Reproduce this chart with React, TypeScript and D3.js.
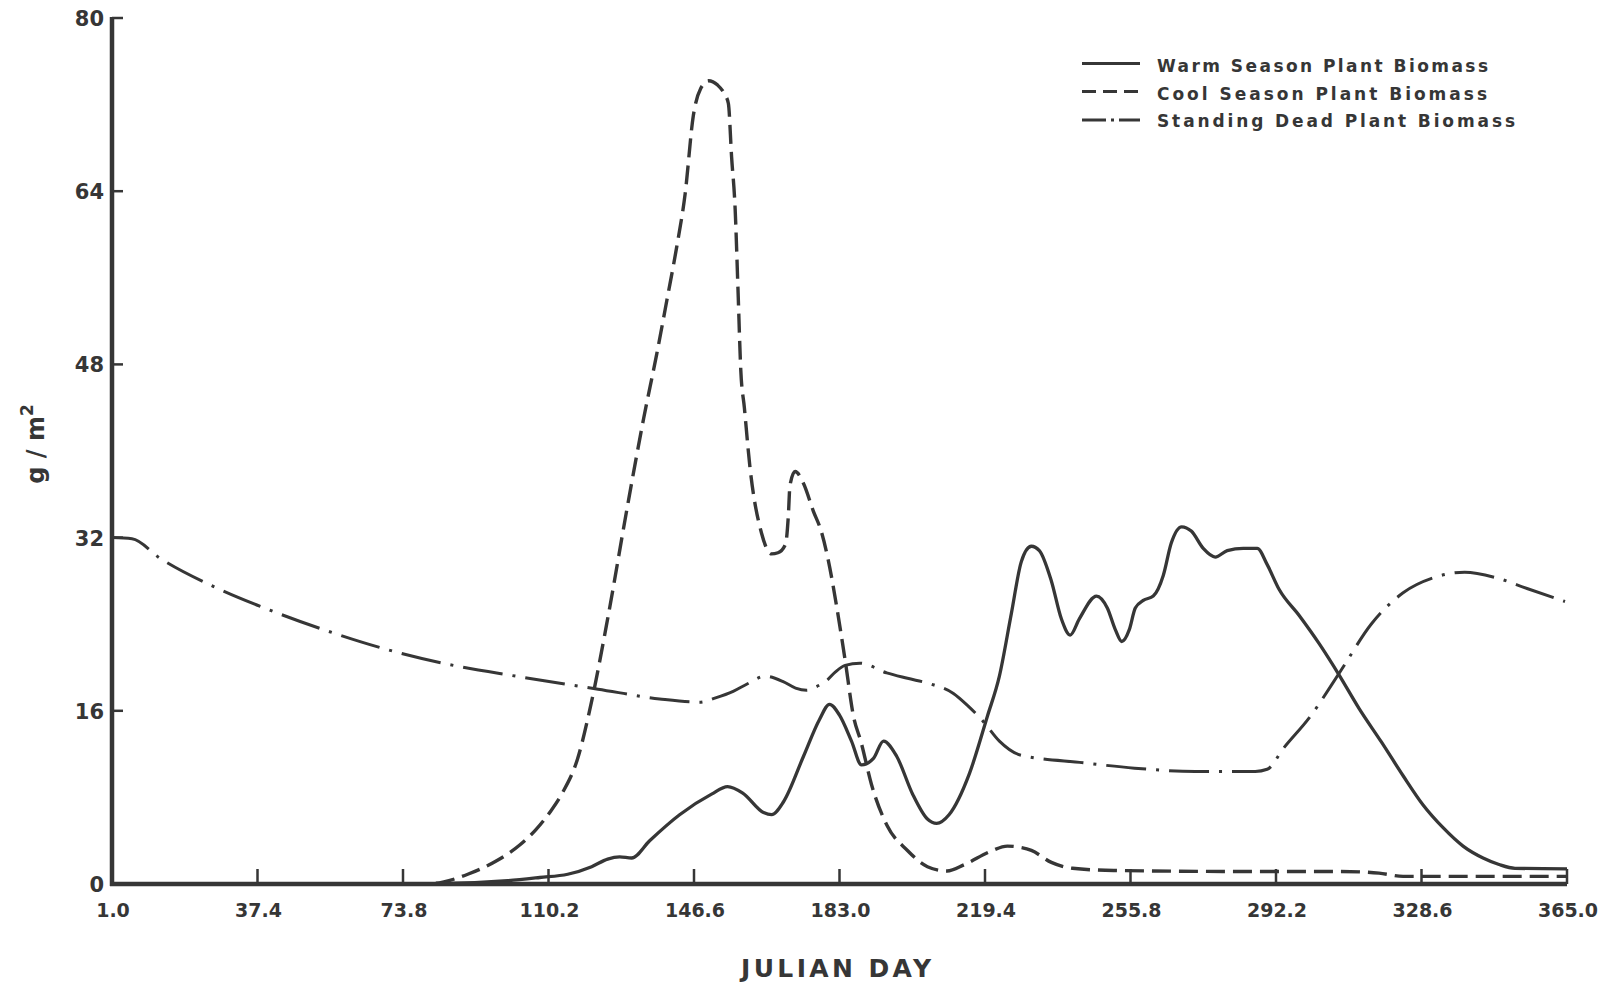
import React from "react";
import * as d3 from "d3";

const xTicks = [1.0, 37.4, 73.8, 110.2, 146.6, 183.0, 219.4, 255.8, 292.2, 328.6, 365.0];
const xTickLabels = ["1.0", "37.4", "73.8", "110.2", "146.6", "183.0", "219.4", "255.8", "292.2", "328.6", "365.0"];
const yTicks = [0, 16, 32, 48, 64, 80];
const yTickLabels = ["0", "16", "32", "48", "64", "80"];

const warmDays = [1, 80, 100, 108, 115, 121, 125, 128, 131, 135.5, 143, 151, 155, 158.8, 164, 166, 169, 174, 178, 180.5, 183, 186, 188.5, 191.5, 194, 197.3, 201.3, 205, 207.3, 210.4, 215.5, 220, 223, 226, 228.5, 231, 233, 236, 238.5, 240.7, 243, 247.3, 250, 252, 253.6, 255.5, 257, 259, 261.5, 264, 266, 268.6, 271, 274, 277, 280, 284, 287.5, 290, 293, 298, 303, 308, 313, 318.6, 324, 329, 334, 339, 344, 348, 352, 365];
const warmValues = [0, 0, 0.3, 0.6, 0.9, 1.6, 2.3, 2.5, 2.4, 4.0, 6.4, 8.3, 9.0, 8.4, 6.6, 6.4, 7.6, 11.8, 15.2, 16.6, 15.6, 13.2, 11.0, 11.6, 13.2, 11.8, 8.3, 6.0, 5.6, 6.4, 10.2, 15.5, 19.2, 25.0, 29.8, 31.2, 30.8, 28.0, 24.5, 23.0, 24.5, 26.6, 25.5, 23.5, 22.4, 23.5, 25.5, 26.2, 26.6, 28.5, 31.5, 33.0, 32.6, 31.0, 30.2, 30.8, 31.0, 31.0, 29.5, 27.2, 24.8, 22.2, 19.3, 16.2, 13.1, 10.0, 7.3, 5.2, 3.5, 2.4, 1.8, 1.45, 1.4];

const coolDays = [1, 80, 84, 90, 97, 103, 107, 110.5, 113.5, 117.5, 121, 125, 130, 134, 137.3, 139.8, 142.3, 144.4, 146.4, 148.3, 150.2, 152.5, 154.2, 155.2, 156.0, 156.9, 157.6, 158.3, 159.2, 160.6, 163.5, 166, 167.6, 169.5, 170.2, 170.6, 171.9, 174, 176.4, 178.5, 180.2, 182.3, 184.4, 186.5, 188.4, 191, 194.9, 200, 205, 209.9, 214.3, 220.7, 225, 228, 231, 236, 241.3, 251.6, 282.6, 308.4, 318, 324, 365];
const coolValues = [0, 0, 0.2, 0.9, 2.1, 3.6, 5.0, 6.6, 8.3, 11.6, 16.9, 24.5, 35.0, 43.0, 49.0, 53.9, 58.9, 63.8, 70.9, 73.5, 74.2, 73.8, 73.0, 72.1, 67.2, 62.3, 55.0, 47.5, 44.0, 38.5, 32.4, 30.5, 30.6, 31.4, 34.0, 36.8, 38.1, 37.0, 34.5, 32.5, 29.9, 25.6, 20.7, 15.5, 13.1, 9.2, 5.4, 3.1, 1.6, 1.2, 1.8, 3.0, 3.5, 3.4, 3.1, 2.0, 1.45, 1.25, 1.16, 1.16, 1.0, 0.7, 0.7];

const deadDays = [1, 6, 13, 26.3, 40.5, 56.3, 71.4, 85, 102, 122.6, 138, 148, 152, 156.4, 160, 164.4, 168.9, 172, 174.8, 177, 179.8, 182, 184.4, 188.1, 194.8, 200, 205.6, 211.5, 215, 219, 223, 228.4, 244, 256.8, 272, 287, 290, 294.2, 300.6, 308.4, 316, 324, 331.7, 339.4, 347.2, 355, 364.5];
const deadValues = [32.0, 31.9, 30.1, 27.5, 25.3, 23.2, 21.5, 20.3, 19.2, 18.0, 17.1, 16.8, 17.2, 17.8, 18.5, 19.2, 18.7, 18.1, 17.9, 18.2, 18.8, 19.6, 20.2, 20.4, 19.5, 19.0, 18.5, 17.6, 16.5, 15.0, 13.2, 11.9, 11.2, 10.7, 10.4, 10.4, 10.6, 12.6, 15.4, 19.7, 24.0, 26.9, 28.3, 28.8, 28.3, 27.3, 26.1];

const legendLabels = ["Warm Season Plant Biomass", "Cool Season Plant Biomass", "Standing Dead Plant Biomass"];

const INK = "#363636";
const FONT = "'DejaVu Sans', Verdana, sans-serif";

export default function App() {
  const x = d3.scaleLinear().domain([1, 365]).range([112, 1567]);
  const y = d3.scaleLinear().domain([0, 80]).range([884, 18]);
  const line = d3
    .line<[number, number]>()
    .x((d) => x(d[0]))
    .y((d) => y(d[1]))
    .curve(d3.curveMonotoneX);

  const zip = (a: number[], b: number[]) => a.map((d, i) => [d, b[i]] as [number, number]);
  const warm = line(zip(warmDays, warmValues)) || "";
  const cool = line(zip(coolDays, coolValues)) || "";
  const dead = line(zip(deadDays, deadValues)) || "";

  const legendY = [63.5, 91.5, 120];
  const legendTextY = [71.5, 99.5, 127];
  const legendTextLen = [331, 330, 358];
  const legendDash = [undefined, "14 7", "24 5 3 5 24"];

  return (
    <svg
      width={1617}
      height={985}
      style={{ position: "absolute", left: 0, top: 0, display: "block", background: "#ffffff" }}
    >
      <rect x={0} y={0} width={1617} height={985} fill="#ffffff" />
      {/* data lines */}
      <path d={dead} fill="none" stroke={INK} strokeWidth={3} strokeDasharray="40 10 3 10" />
      <path d={cool} fill="none" stroke={INK} strokeWidth={3.4} strokeDasharray="19 8" />
      <path d={warm} fill="none" stroke={INK} strokeWidth={3.3} />

      {/* axes */}
      <line x1={x(1)} x2={x(1)} y1={y(80) - 1} y2={y(0) + 2} stroke={INK} strokeWidth={4.5} />
      <line x1={x(1) - 2} x2={x(365)} y1={y(0)} y2={y(0)} stroke={INK} strokeWidth={4.5} />
      {yTicks.map((t, i) => (
        <g key={"yt" + i}>
          {t > 0 && <line x1={x(1)} x2={x(1) + 11} y1={y(t)} y2={y(t)} stroke={INK} strokeWidth={2.5} />}
          <text
            x={104}
            y={y(t) + 8}
            textAnchor="end"
            fontFamily={FONT}
            fontWeight="bold"
            fontSize={21}
            fill={INK}
          >
            {yTickLabels[i]}
          </text>
        </g>
      ))}
      {xTicks.map((t, i) => (
        <g key={"xt" + i}>
          {i > 0 && <line x1={x(t)} x2={x(t)} y1={y(0)} y2={y(0) - 15} stroke={INK} strokeWidth={2.5} />}
          <text
            x={x(t) + 1}
            y={917}
            textAnchor="middle"
            fontFamily={FONT}
            fontWeight="bold"
            fontSize={19}
            fill={INK}
          >
            {xTickLabels[i]}
          </text>
        </g>
      ))}

      {/* axis titles */}
      <text
        x={836}
        y={977}
        textAnchor="middle"
        fontFamily={FONT}
        fontWeight="bold"
        fontSize={25}
        fill={INK}
        textLength={190}
        lengthAdjust="spacing"
      >
        JULIAN DAY
      </text>
      <text
        transform="translate(44,444) rotate(-90)"
        textAnchor="middle"
        fontFamily={FONT}
        fontWeight="bold"
        fontSize={24}
        fill={INK}
      >
        g / m
        <tspan fontSize={17} dy={-11}>
          2
        </tspan>
      </text>

      {/* legend */}
      {legendLabels.map((lab, i) => (
        <g key={"lg" + i}>
          <line
            x1={1082}
            x2={1140}
            y1={legendY[i]}
            y2={legendY[i]}
            stroke={INK}
            strokeWidth={2.8}
            strokeDasharray={legendDash[i]}
          />
          <text
            x={1157}
            y={legendTextY[i]}
            fontFamily={FONT}
            fontWeight="bold"
            fontSize={17}
            fill={INK}
            textLength={legendTextLen[i]}
            lengthAdjust="spacing"
          >
            {lab}
          </text>
        </g>
      ))}
    </svg>
  );
}
